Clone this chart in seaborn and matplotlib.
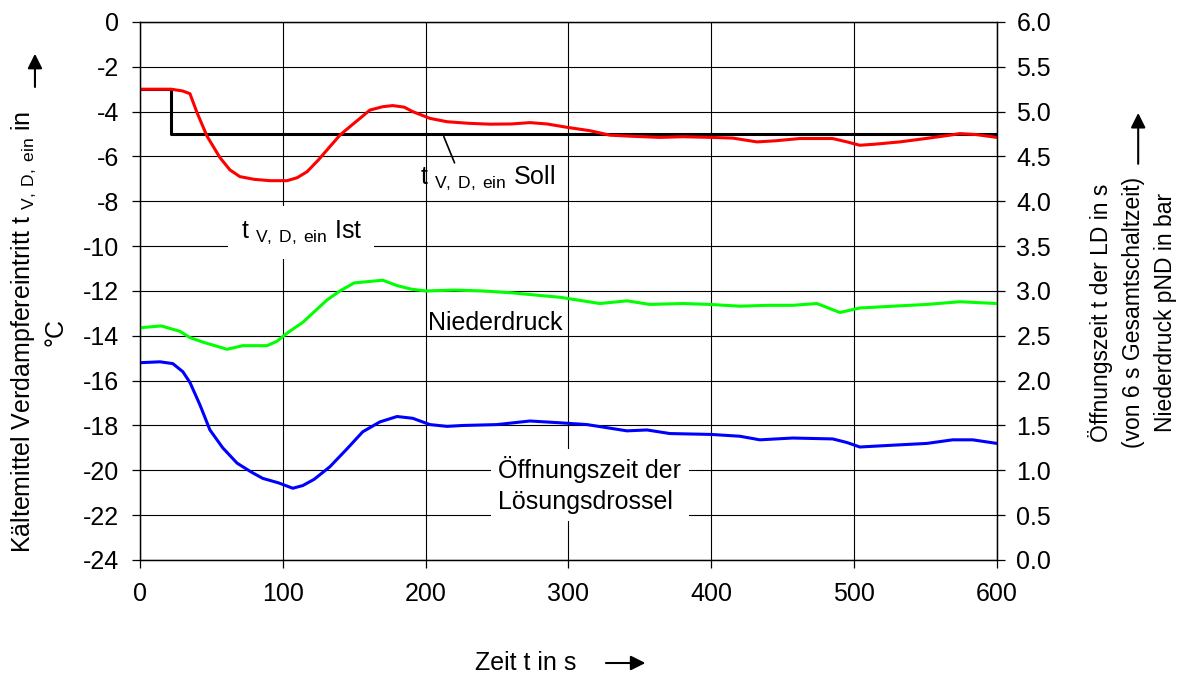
import matplotlib
matplotlib.use("Agg")
from matplotlib import pyplot as plt
from matplotlib.ticker import FormatStrFormatter, MultipleLocator
import seaborn as sns

# Kaeltemittel-Eintrittstemperatur (Ist), degC
t_ist = [0, 22, 30, 35, 40, 47, 56, 63, 70, 80, 91, 103, 110, 117, 125, 133, 140, 147,
         155, 161, 170, 177, 185, 191, 203, 215, 230, 245, 260, 273, 285, 299, 315, 329,
         345, 364, 380, 400, 415, 432, 445, 462, 485, 495, 504, 515, 532, 550, 567, 574,
         585, 600]
ist = [-3.0, -3.0, -3.08, -3.2, -4.05, -5.1, -6.05, -6.6, -6.9, -7.02, -7.08, -7.08, -6.95,
       -6.68, -6.15, -5.56, -5.05, -4.67, -4.25, -3.93, -3.78, -3.73, -3.8, -4.0, -4.3, -4.45,
       -4.52, -4.56, -4.55, -4.49, -4.55, -4.7, -4.85, -5.05, -5.1, -5.15, -5.12, -5.15, -5.18,
       -5.35, -5.3, -5.2, -5.2, -5.35, -5.5, -5.45, -5.35, -5.2, -5.05, -4.98, -5.02, -5.15]

# Sollwert, degC
t_soll = [0, 22, 22, 600]
soll = [-3.0, -3.0, -5.0, -5.0]

# Niederdruck, bar
t_nd = [0, 15, 28, 35, 44, 61, 72, 89, 96, 103, 114, 131, 140, 150, 170, 180, 190, 200, 220,
        240, 260, 280, 294, 322, 341, 357, 380, 399, 420, 440, 457, 474, 490, 504, 527, 551,
        574, 600]
nd = [2.59, 2.61, 2.55, 2.48, 2.43, 2.35, 2.39, 2.39, 2.44, 2.53, 2.65, 2.9, 3.0, 3.09, 3.12,
      3.06, 3.02, 3.0, 3.01, 3.0, 2.98, 2.95, 2.93, 2.86, 2.89, 2.85, 2.86, 2.85, 2.83, 2.84,
      2.84, 2.86, 2.76, 2.81, 2.83, 2.85, 2.88, 2.86]

# Oeffnungszeit der Loesungsdrossel, s
t_ld = [0, 14, 23, 30, 35, 42, 49, 58, 68, 78, 86, 97, 107, 114, 122, 133, 145, 156, 168,
        180, 191, 203, 215, 226, 250, 273, 294, 313, 341, 355, 371, 400, 420, 434, 457, 485,
        495, 504, 527, 551, 569, 583, 600]
ld = [2.2, 2.21, 2.19, 2.1, 1.98, 1.73, 1.45, 1.25, 1.08, 0.98, 0.91, 0.86, 0.8, 0.83, 0.9,
      1.04, 1.24, 1.43, 1.54, 1.6, 1.58, 1.51, 1.49, 1.5, 1.51, 1.55, 1.53, 1.51, 1.44, 1.45,
      1.41, 1.4, 1.38, 1.34, 1.36, 1.35, 1.31, 1.26, 1.28, 1.3, 1.34, 1.34, 1.3]

sns.set_theme(style="white")
plt.rcParams["font.family"] = ["Liberation Sans", "DejaVu Sans"]
plt.rcParams["mathtext.fontset"] = "custom"
plt.rcParams["mathtext.rm"] = "Liberation Sans"
plt.rcParams["mathtext.it"] = "Liberation Sans"
plt.rcParams["axes.unicode_minus"] = False
for k in ("text.color", "axes.labelcolor", "xtick.color", "ytick.color"):
    plt.rcParams[k] = "black"

FS = 18

fig = plt.figure(figsize=(11.85, 6.8), dpi=100)
ax = fig.add_axes([0.1181, 0.1765, 0.7232, 0.7912])
ax2 = ax.twinx()

sns.lineplot(x=t_soll, y=soll, ax=ax, color="black", lw=2.2, estimator=None, sort=False)
sns.lineplot(x=t_ist, y=ist, ax=ax, color="#ff0000", lw=2.2, estimator=None)
sns.lineplot(x=t_nd, y=nd, ax=ax2, color="#00ff00", lw=2.2, estimator=None)
sns.lineplot(x=t_ld, y=ld, ax=ax2, color="#0000ff", lw=2.2, estimator=None)

ax.set_xlim(0, 600)
ax.set_ylim(-24, 0)
ax2.set_ylim(0, 6)
ax.xaxis.set_major_locator(MultipleLocator(100))
ax.yaxis.set_major_locator(MultipleLocator(2))
ax2.yaxis.set_major_locator(MultipleLocator(0.5))
ax2.yaxis.set_major_formatter(FormatStrFormatter("%.1f"))

ax.grid(True, color="black", lw=0.8)
ax.set_axisbelow(True)
ax2.grid(False)
for a in (ax, ax2):
    for s in a.spines.values():
        s.set_color("black")
        s.set_linewidth(0.9)
ax.tick_params(axis="both", direction="out", length=6, width=0.9, color="black",
               labelsize=FS, left=True, bottom=True)
ax.tick_params(axis="x", pad=10)
ax.tick_params(axis="y", pad=9)
ax2.tick_params(axis="y", direction="out", length=6, width=0.9, color="black",
                labelsize=FS, right=True, pad=8)
ax.set_xlabel("")
ax.set_ylabel("")
ax2.set_ylabel("")

sub = r"$_{\mathrm{V,\;D,\;ein}}$"

# Beschriftungen im Diagramm
ax.annotate("", xy=(212, -5.0), xytext=(221, -6.4),
            arrowprops=dict(arrowstyle="-", color="black", lw=1.2))
ax.text(196, -6.95, "t " + sub + " Soll", fontsize=FS, va="center", ha="left")
ax.text(113, -9.4, "t " + sub + " Ist", fontsize=FS, va="center", ha="center",
        bbox=dict(facecolor="white", edgecolor="none", boxstyle="square,pad=0.5"))
ax.text(202, -13.45, "Niederdruck", fontsize=FS, va="center", ha="left")
ax.text(251, -20.65, "Öffnungszeit der\nLösungsdrossel", fontsize=FS, va="center",
        ha="left", linespacing=1.35,
        bbox=dict(facecolor="white", edgecolor="none", boxstyle="square,pad=0.3"))

# Achsenbeschriftungen
fig.text(0.401, 0.025, "Zeit t in s", fontsize=FS, va="center", ha="left")
fig.text(0.0325, 0.512, "Kältemittel Verdampfereintritt t " + sub + " in\n°C",
         fontsize=FS, rotation=90, va="center", ha="center", multialignment="center",
         linespacing=1.3)
fig.text(0.956, 0.54, "Öffnungszeit t der LD in s\n(von 6 s Gesamtschaltzeit)\nNiederdruck pND in bar",
         fontsize=16.5, rotation=90, va="center", ha="center", multialignment="center",
         linespacing=1.5)

arrow = dict(arrowstyle="-|>", color="black", lw=1.5, mutation_scale=22)
fig.add_artist(plt.Annotation("", xy=(0.547, 0.025), xytext=(0.509, 0.025),
                              xycoords="figure fraction", arrowprops=arrow))
fig.add_artist(plt.Annotation("", xy=(0.0295, 0.925), xytext=(0.0295, 0.868),
                              xycoords="figure fraction", arrowprops=arrow))
fig.add_artist(plt.Annotation("", xy=(0.9605, 0.838), xytext=(0.9605, 0.755),
                              xycoords="figure fraction", arrowprops=arrow))

fig.savefig("out.png", dpi=100, facecolor="white")
